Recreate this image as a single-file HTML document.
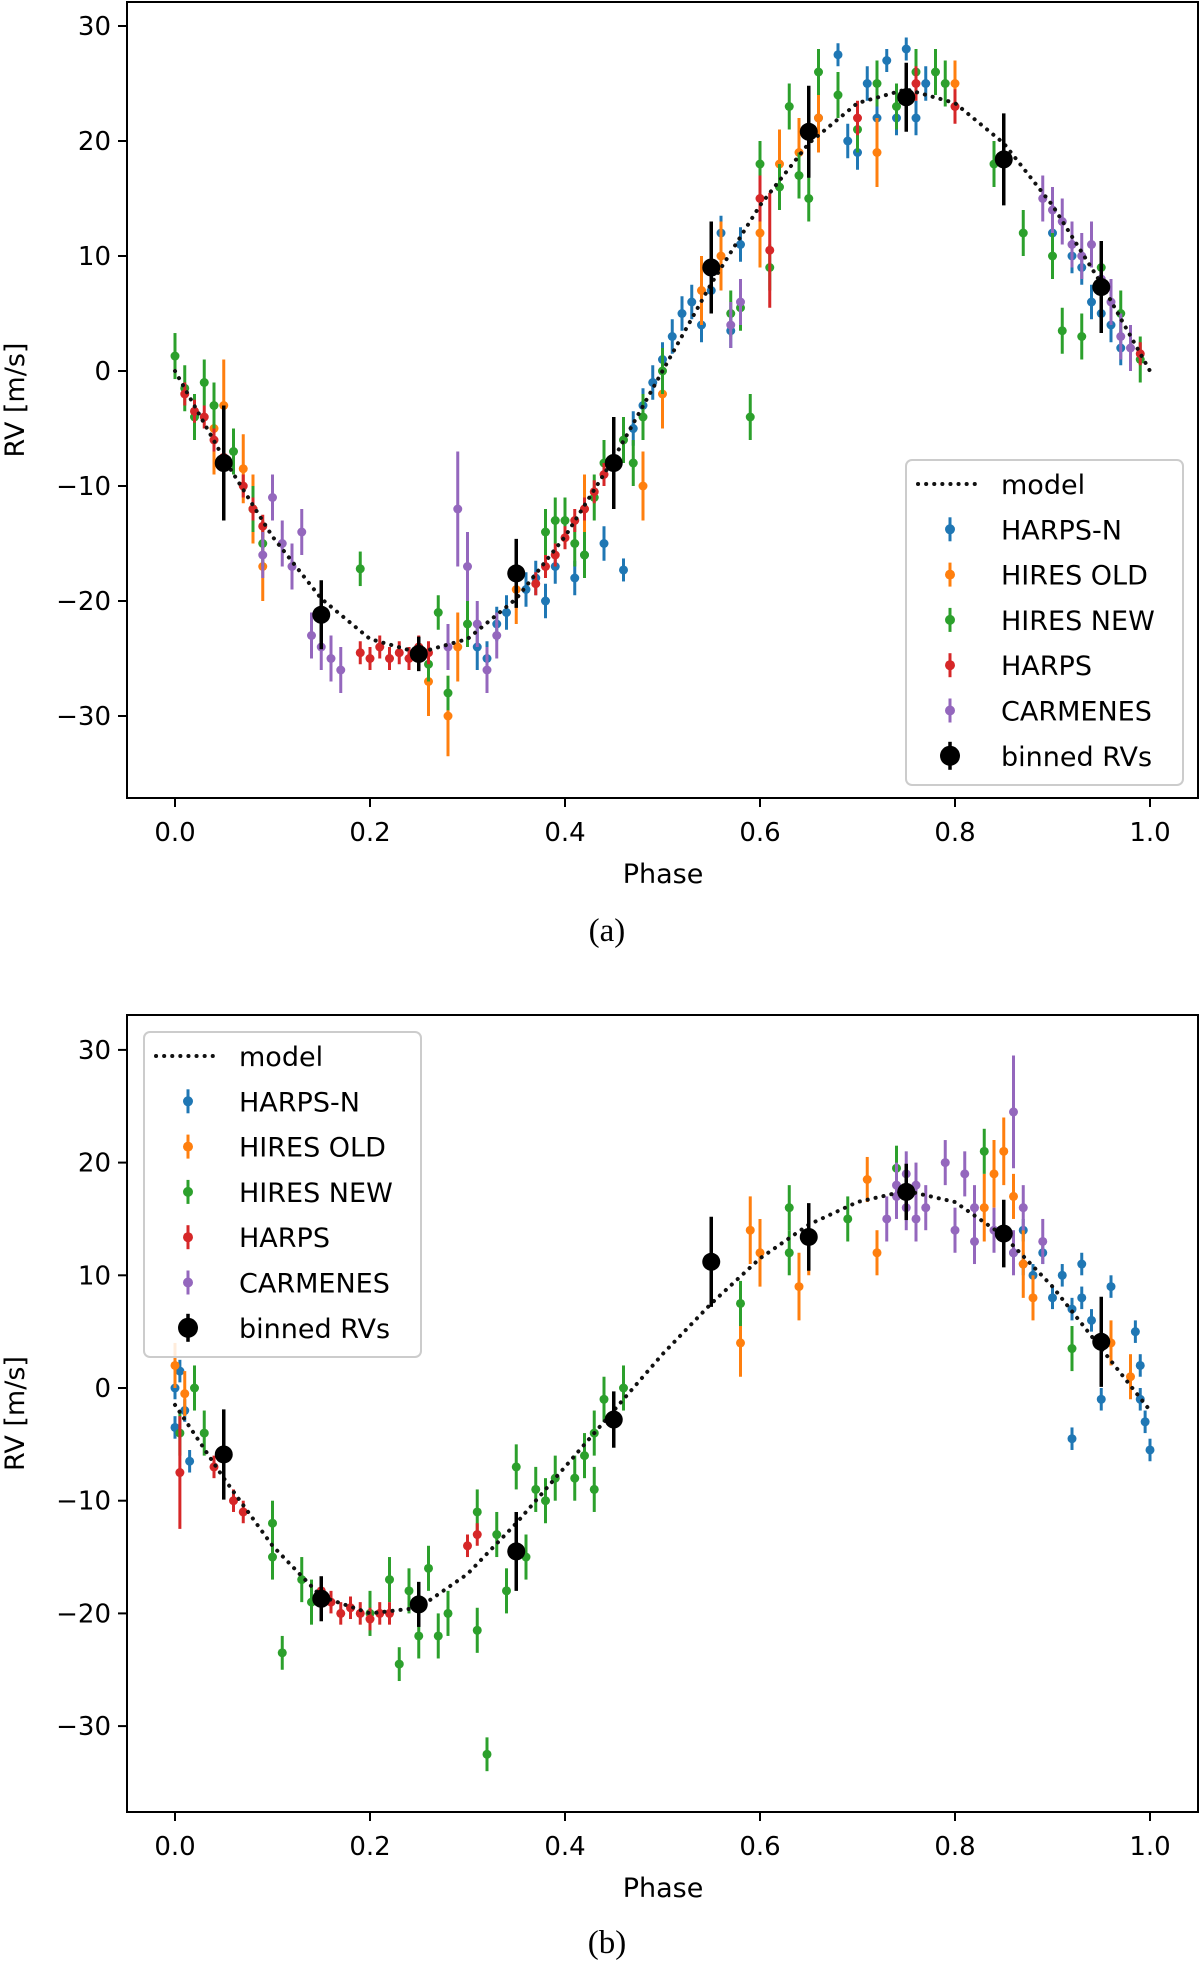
<!DOCTYPE html>
<html><head><meta charset="utf-8"><style>
html,body{margin:0;padding:0;background:#fff;}
svg{display:block;}
text{font-family:"DejaVu Sans","Liberation Sans",sans-serif;fill:#000;}
.cap{font-family:"Liberation Serif",serif;}
</style></head><body>
<svg id="chart" width="1200" height="1965" viewBox="0 0 1200 1965" xmlns="http://www.w3.org/2000/svg"></svg>
<script>
const colors={hn:'#1f77b4',ho:'#ff7f0e',hw:'#2ca02c',hp:'#d62728',cm:'#9467bd'};
const xTicks=[0,0.2,0.4,0.6,0.8,1.0];
const xTickLabels=['0.0','0.2','0.4','0.6','0.8','1.0'];
const yTicks=[30,20,10,0,-10,-20,-30];
const yTickLabels=['30','20','10','0','\u221210','\u221220','\u221230'];
const modelPhases=[0,.05,.1,.15,.2,.25,.3,.35,.4,.45,.5,.55,.6,.65,.7,.75,.8,.85,.9,.95,1];
const modelA=[0,-7.6,-14.4,-19.8,-23.3,-24.5,-23.3,-19.8,-14.4,-7.6,0,7.6,14.4,19.8,23.3,24.5,23.3,19.8,14.4,7.6,0];
const modelB=[-1.5,-8,-14,-18.5,-20,-19.5,-16.5,-12,-7,-2,3,7.5,11.5,14.5,16.5,17.5,16.5,13.5,9,3.5,-2];
const binPhases=[.05,.15,.25,.35,.45,.55,.65,.75,.85,.95];
const binA=[-8,-21.2,-24.6,-17.6,-8,9,20.8,23.8,18.4,7.3];
const binAErr=[5,3,1.5,3,4,4,4,3,4,4];
const binB=[-5.9,-18.7,-19.2,-14.5,-2.8,11.2,13.4,17.4,13.7,4.1];
const binBErr=[4,2,2,3.5,2.5,4,3,2.5,3,4];
const A_hn=[[.31,-24,2],[.32,-25,1.5],[.33,-22,1.5],[.34,-21,1.5],[.36,-19,1.5],[.37,-18,1.5],[.38,-20,1.5],[.39,-17,1.5],[.41,-18,1.5],[.42,-16,1.5],[.44,-15,1.5],[.46,-17.3,1],[.47,-5,1.5],[.48,-3,1.5],[.49,-1,1.5],[.5,1,1.5],[.51,3,1.5],[.52,5,1.5],[.53,6,1.5],[.54,4,1.5],[.55,7,1.5],[.56,12,1.5],[.57,3.5,1.5],[.58,11,1.5],[.66,22,1.5],[.68,27.5,1],[.69,20,1.5],[.7,19,1.5],[.71,25,1.5],[.72,22,1.5],[.73,27,1],[.74,22,1.5],[.75,28,1],[.76,22,1.5],[.77,25,1.5],[.85,18,1.5],[.9,12,1.5],[.92,10,1.5],[.93,9,1.5],[.94,6,1.5],[.95,5,1.5],[.96,4,1.5],[.97,2,1.5]];
const A_ho=[[.04,-5,4],[.05,-3,4],[.07,-8.5,3],[.08,-12,3],[.09,-17,3],[.26,-27,3],[.28,-30,3.5],[.29,-24,3],[.35,-19,3],[.42,-12,3],[.48,-10,3],[.5,-2,3],[.54,7,3],[.56,10,3],[.6,12,3],[.62,18,3],[.64,19,3],[.66,22,3],[.72,19,3],[.8,25,2]];
const A_hw=[[.0,1.3,2],[.01,-1.5,2],[.02,-4,2],[.03,-1,2],[.04,-3,2],[.06,-7,2],[.08,-12,2],[.09,-15,2],[.19,-17.2,1.5],[.26,-25.5,1.5],[.27,-21,1.5],[.28,-28,1.5],[.3,-22,2],[.38,-14,2],[.39,-13,2],[.4,-13,2],[.41,-15,2],[.42,-16,2],[.43,-11,2],[.44,-8,2],[.46,-6,2],[.47,-8,2],[.48,-4,2],[.5,0,2],[.57,5,2],[.58,5.5,2],[.59,-4,2],[.6,18,2],[.61,9,2],[.62,16,2],[.63,23,2],[.64,17,2],[.65,15,2],[.66,26,2],[.68,24,2],[.7,21,2],[.72,25,2],[.74,23,2],[.76,26,2],[.78,26,2],[.79,25,2],[.84,18,2],[.87,12,2],[.9,10,2],[.91,3.5,2],[.93,3,2],[.95,9,2],[.97,5,2],[.99,1,2]];
const A_hp=[[.01,-2,1],[.02,-3.5,1],[.03,-4,1],[.04,-6,1],[.05,-7.5,1],[.07,-10,1],[.08,-12,1],[.09,-13.5,1],[.19,-24.5,1],[.2,-25,1],[.21,-24,1],[.22,-25,1],[.23,-24.5,1],[.24,-25,1],[.25,-24,1],[.26,-24.5,1],[.37,-18.5,1],[.38,-17,1],[.39,-16,1],[.4,-14.5,1],[.41,-13,1],[.42,-12,1],[.43,-10.5,1],[.44,-9,1],[.45,-8,1],[.6,15,2],[.61,10.5,5],[.7,22,1.5],[.76,25,1.5],[.8,23,1.5],[.99,1.5,1]];
const A_cm=[[.09,-16,2],[.1,-11,2],[.11,-15,2],[.12,-17,2],[.13,-14,2],[.14,-23,2],[.15,-24,2],[.16,-25,2],[.17,-26,2],[.28,-24,2],[.29,-12,5],[.3,-17,3],[.31,-22,2],[.32,-26,2],[.33,-23,2],[.57,4,2],[.58,6,2],[.89,15,2],[.9,14,2],[.91,13,2],[.92,11,2],[.93,10,2],[.94,11,2],[.95,8,2],[.96,6,2],[.97,3,2],[.98,2,2]];
const B_hn=[[.0,-3.5,1],[.0,0,1],[.005,1.5,1],[.01,-2,1],[.015,-6.5,1],[.86,12,1],[.87,14,1],[.88,10,1],[.89,12,1],[.9,8,1],[.91,10,1],[.92,-4.5,1],[.92,7,1],[.93,11,1],[.94,6,1],[.95,-1,1],[.96,9,1],[.985,5,1],[.99,-1,1],[.995,-3,1],[1.0,-5.5,1],[.99,2,1],[.93,8,1],[.87,11,1]];
const B_ho=[[.0,2,2],[.01,-0.5,2],[.58,4,3],[.59,14,3],[.6,12,3],[.64,9,3],[.65,13,3],[.71,18.5,2],[.72,12,2],[.83,16,3],[.84,19,3],[.85,21,3],[.86,17,2],[.87,11,3],[.88,8,2],[.96,4,2],[.98,1,2]];
const B_hw=[[.005,-4,2],[.02,0,2],[.03,-4,2],[.1,-12,2],[.1,-15,2],[.11,-23.5,1.5],[.13,-17,2],[.14,-19,2],[.2,-20,2],[.22,-17,2],[.23,-24.5,1.5],[.24,-18,2],[.25,-22,2],[.26,-16,2],[.27,-22,2],[.28,-20,2],[.31,-21.5,2],[.31,-11,2],[.32,-32.5,1.5],[.33,-13,2],[.34,-18,2],[.35,-7,2],[.36,-15,2],[.37,-9,2],[.38,-10,2],[.39,-8,2],[.41,-8,2],[.42,-6,2],[.43,-4,2],[.43,-9,2],[.44,-1,2],[.45,-3,2],[.46,0,2],[.58,7.5,2],[.63,12,2],[.63,16,2],[.69,15,2],[.74,19.5,2],[.75,17,2],[.83,21,2],[.92,3.5,2]];
const B_hp=[[.005,-7.5,5],[.04,-7,1],[.06,-10,1],[.07,-11,1],[.15,-18,1],[.16,-19,1],[.17,-20,1],[.18,-19.5,1],[.19,-20,1],[.2,-20.5,1],[.21,-20,1],[.22,-20,1],[.3,-14,1],[.31,-13,1]];
const B_cm=[[.73,15,2],[.74,18,2],[.75,16,2],[.76,18,2],[.75,19,2],[.76,15,2],[.74,17,2],[.77,16,2],[.79,20,2],[.8,14,2],[.81,19,2],[.82,13,2],[.82,16,2],[.84,14,2],[.86,12,2],[.86,24.5,5],[.85,14,2],[.87,16,2],[.89,13,2]];

const NS='http://www.w3.org/2000/svg';
const svg=document.getElementById('chart');
function mk(tag,attrs,parent){const e=document.createElementNS(NS,tag);for(const k in attrs)e.setAttribute(k,attrs[k]);(parent||svg).appendChild(e);return e;}

function panel(p){
  const g=mk('g',{});
  
  
  const L=127,R=1198,T=p.top,B=p.bottom;
  const x=v=>175+975*v;
  const y=v=>p.y0-p.sy*v;
  const series=[['hn',p.hn],['ho',p.ho],['hw',p.hw],['hp',p.hp],['cm',p.cm]];
  series.forEach(([k,arr])=>{
    const sg=mk('g',{},g);
    
    
    arr.forEach(d=>{
      const l=mk('line',{x1:x(d[0]),x2:x(d[0]),y1:y(d[1]-d[2]),y2:y(d[1]+d[2]),stroke:colors[k],'stroke-width':3},sg);
      
      
      const c=mk('circle',{cx:x(d[0]),cy:y(d[1]),r:4.5,fill:colors[k]},sg);
      
      
    });
  });
  let dpath='';
  p.model.forEach((v,i)=>{dpath+=(i?'L':'M')+x(modelPhases[i]).toFixed(1)+' '+y(v).toFixed(1);});
  const m=mk('path',{d:dpath,fill:'none',stroke:'#111','stroke-width':4,'stroke-dasharray':'0.1 8','stroke-linecap':'round'},g);
  
  
  p.bin.forEach((v,i)=>{
    const l=mk('line',{x1:x(binPhases[i]),x2:x(binPhases[i]),y1:y(v-p.binErr[i]),y2:y(v+p.binErr[i]),stroke:'#000','stroke-width':3.5},g);
    
    
    const c=mk('circle',{cx:x(binPhases[i]),cy:y(v),r:9,fill:'#000'},g);
    
    
  });
  const fr=mk('rect',{x:L,y:T,width:R-L,height:B-T,fill:'none',stroke:'#000','stroke-width':2},g);
  
  
  xTicks.forEach((t,i)=>{
    mk('line',{x1:x(t),x2:x(t),y1:B,y2:B+9,stroke:'#000','stroke-width':2},g);
    const tx=mk('text',{x:x(t),y:B+43,'font-size':26,'text-anchor':'middle'},g);
    tx.textContent=xTickLabels[i];
    
    
  });
  yTicks.forEach((t,i)=>{
    mk('line',{x1:L-9,x2:L,y1:y(t),y2:y(t),stroke:'#000','stroke-width':2},g);
    const tx=mk('text',{x:L-16,y:y(t)+9,'font-size':26,'text-anchor':'end'},g);
    tx.textContent=yTickLabels[i];
    
    
  });
  const xl=mk('text',{x:663,y:B+85,'font-size':27,'text-anchor':'middle'},g);
  xl.textContent='Phase';
  
  
  const yl=mk('text',{x:0,y:0,'font-size':27,'text-anchor':'middle',transform:'translate(24,'+((T+B)/2)+') rotate(-90)'},g);
  yl.textContent='RV [m/s]';
  
  
  const cp=mk('text',{x:607,y:p.capY,'font-size':33,'text-anchor':'middle','class':'cap'},g);
  cp.textContent=p.cap;
  
  
  const lg=mk('g',{},g);
  
  
  const lx=p.legX,ly=p.legY;
  mk('rect',{x:lx,y:ly,width:277,height:325,rx:6,fill:'#fff','fill-opacity':0.85,stroke:'#ccc','stroke-width':2},lg);
  const entries=[['model',null],['HARPS-N','hn'],['HIRES OLD','ho'],['HIRES NEW','hw'],['HARPS','hp'],['CARMENES','cm'],['binned RVs','bin']];
  entries.forEach((e,i)=>{
    const cy=ly+24+i*45.3;
    const eg=mk('g',{},lg);
    
    
    const mx=lx+44;
    if(e[1]===null){mk('line',{x1:lx+12,x2:lx+70,y1:cy,y2:cy,stroke:'#111','stroke-width':4,'stroke-dasharray':'0.1 8','stroke-linecap':'round'},eg);}
    else if(e[1]==='bin'){mk('line',{x1:mx,x2:mx,y1:cy-14,y2:cy+14,stroke:'#000','stroke-width':3.5},eg);mk('circle',{cx:mx,cy:cy,r:10,fill:'#000'},eg);}
    else{mk('line',{x1:mx,x2:mx,y1:cy-12,y2:cy+12,stroke:colors[e[1]],'stroke-width':3},eg);mk('circle',{cx:mx,cy:cy,r:5,fill:colors[e[1]]},eg);}
    const t=mk('text',{x:lx+95,y:cy+10,'font-size':27},eg);
    t.textContent=e[0];
  });
}
panel({name:'panel-a',top:2,bottom:798,y0:371,sy:11.5,capY:941,cap:'(a)',model:modelA,bin:binA,binErr:binAErr,hn:A_hn,ho:A_ho,hw:A_hw,hp:A_hp,cm:A_cm,legX:906,legY:460});
panel({name:'panel-b',top:1015,bottom:1812,y0:1388,sy:11.27,capY:1953,cap:'(b)',model:modelB,bin:binB,binErr:binBErr,hn:B_hn,ho:B_ho,hw:B_hw,hp:B_hp,cm:B_cm,legX:144,legY:1032});
</script>
</body></html>
